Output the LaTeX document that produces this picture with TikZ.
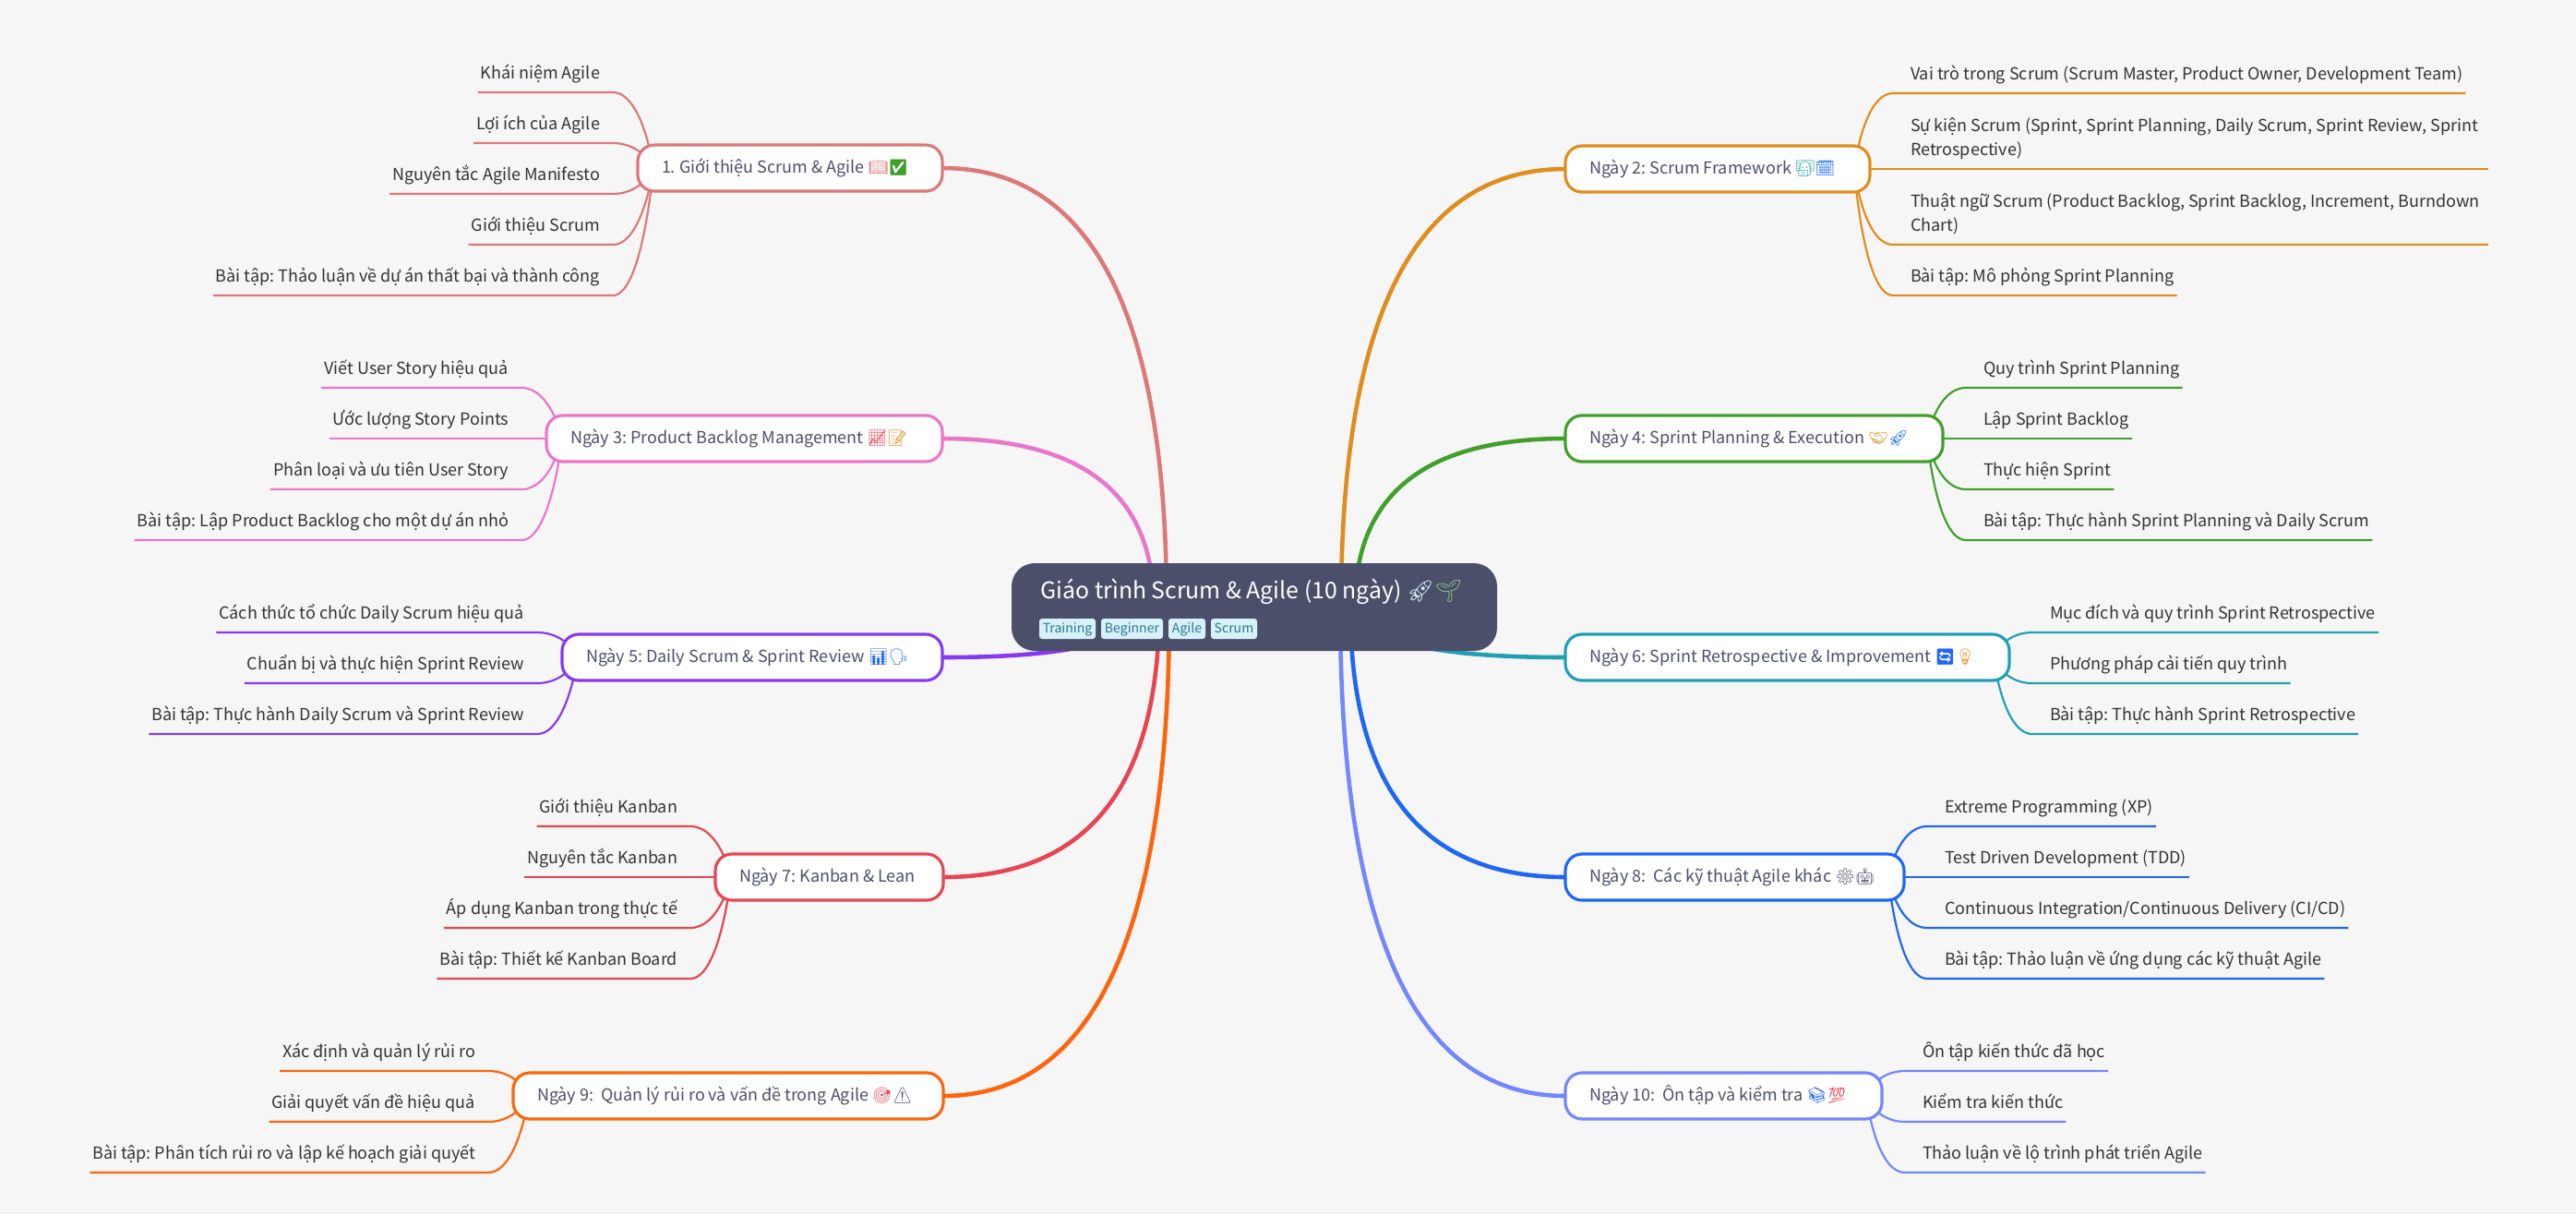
\documentclass[tikz,border=0pt]{standalone}
\usepackage{fontspec}
\usepackage{xcolor}
\usetikzlibrary{calc, backgrounds}
\setmainfont{Noto Sans CJK SC}
\newfontfamily\emojifont[Scale=0.95]{Noto Emoji}
\frenchspacing
\hyphenpenalty=10000

\definecolor{pagebg}{HTML}{F6F6F6}
\definecolor{rootbg}{HTML}{4C4F69}
\definecolor{tagbg}{HTML}{D6F1F7}
\definecolor{tagfg}{HTML}{2B7A94}
\definecolor{topicfg}{HTML}{4C4F69}
\definecolor{leaffg}{HTML}{333333}
\definecolor{cone}{HTML}{DD7878}
\definecolor{ctwo}{HTML}{DF8E1D}
\definecolor{cthree}{HTML}{EA76CB}
\definecolor{cfour}{HTML}{40A02B}
\definecolor{cfive}{HTML}{8839EF}
\definecolor{csix}{HTML}{209FB5}
\definecolor{cseven}{HTML}{E64553}
\definecolor{ceight}{HTML}{1E66F5}
\definecolor{cnine}{HTML}{FE640B}
\definecolor{cten}{HTML}{7287FD}

\newcommand{\emo}[2]{{\emojifont\color{#1}#2}}
\newcommand{\lstrut}{\rule[-0.08cm]{0pt}{0.18cm}}

\tikzset{
    topic/.style={draw=#1, fill=white, line width=0.9pt, rounded corners=0.18cm, inner xsep=0.26cm, inner ysep=0pt, outer sep=0pt, minimum height=0.5cm, text height=0.15cm, text depth=0.05cm, text=topicfg, font=\fontsize{5.12pt}{7pt}\selectfont},
    leafl/.style={anchor=south east, inner xsep=0.03cm, inner ysep=0.07cm, outer sep=0pt, text=leaffg, font=\fontsize{5.12pt}{7.4pt}\selectfont, execute at begin node=\lstrut, execute at end node={\hspace{0.11cm}}},
    leafr/.style={anchor=south west, inner xsep=0.03cm, inner ysep=0.07cm, outer sep=0pt, text=leaffg, font=\fontsize{5.12pt}{7.4pt}\selectfont, execute at begin node={\lstrut\hspace*{0.16cm}}},
    leafwide/.style={anchor=south west, inner xsep=0pt, inner ysep=0.07cm, outer sep=0pt, text width=6.45cm, align=left, text=leaffg, font=\fontsize{5.12pt}{7.4pt}\selectfont, execute at begin node={\leftskip=0.19cm\relax\spaceskip=0pt\relax\xspaceskip=0pt\relax\lstrut}, execute at end node=\lstrut},
    tagbox/.style={fill=tagbg, rounded corners=0.03cm, inner sep=0pt, minimum height=0.22cm, text height=0.12cm, text depth=0.04cm, text=tagfg, font=\fontsize{4pt}{5pt}\selectfont},
    mainline/.style={line width=1.3pt, to path={.. controls ($(\tikztostart)!0.667!(\tikztostart |- \tikztotarget)$) and ($(\tikztotarget)!0.667!(\tikztostart |- \tikztotarget)$) .. (\tikztotarget)}},
    linkl/.style={draw=#1, line width=0.62pt, to path={($(\tikztostart.west)+(0.17,0)$) .. controls ($(\tikztostart.west)+(0.17,0)$) and ($(\tikztotarget.south east)+(0.32,0)$) .. (\tikztotarget.south east) -- (\tikztotarget.south west)}},
    linkr/.style={draw=#1, line width=0.62pt, to path={($(\tikztostart.east)+(-0.17,0)$) .. controls ($(\tikztostart.east)+(-0.17,0)$) and ($(\tikztotarget.south west)+(-0.32,0)$) .. (\tikztotarget.south west) -- (\tikztotarget.south east)}},
}

\begin{document}
\begin{tikzpicture}
    % root
    \node[fill=rootbg, rounded corners=0.25cm, minimum width=5.26cm, minimum height=0.95cm, inner sep=0pt] (root) at (13.59, -6.575) {};
    \node[anchor=base west, inner sep=0pt, text=white, font=\fontsize{7.06pt}{9pt}\selectfont] (title) at (11.27, -6.48) {Giáo trình Scrum \& Agile (10 ngày) \emo{tagbg}{🚀}\emo{cfour!60!white}{🌱}};
    \node[tagbox, minimum width=0.61cm] (tag1) at (11.565, -6.81) {Training};
    \node[tagbox, minimum width=0.67cm] (tag2) at (12.265, -6.81) {Beginner};
    \node[tagbox, minimum width=0.40cm] (tag3) at (12.86, -6.81) {Agile};
    \node[tagbox, minimum width=0.50cm] (tag4) at (13.37, -6.81) {Scrum};

    % topics
    \node[topic=cone] (t1) at (8.56, -1.82) {\makebox[2.78cm][l]{1. Giới thiệu Scrum \& Agile \emo{cone}{📖}\emo{cfour}{✅}}};
    \node[topic=ctwo] (t2) at (18.61, -1.83) {\makebox[2.78cm][l]{Ngày 2: Scrum Framework \emo{csix}{👩‍💻}\emo{ceight}{🗓}}};
    \node[topic=cthree] (t3) at (8.065, -4.75) {\makebox[3.77cm][l]{Ngày 3: Product Backlog Management \emo{cseven}{📈}\emo{ctwo}{📝}}};
    \node[topic=cfour] (t4) at (19.005, -4.75) {\makebox[3.57cm][l]{Ngày 4: Sprint Planning \& Execution \emo{ctwo}{🤝}\emo{ceight}{🚀}}};
    \node[topic=cfive] (t5) at (8.15, -7.12) {\makebox[3.60cm][l]{Ngày 5: Daily Scrum \& Sprint Review \emo{ceight}{📊}\emo{ceight}{🗣}}};
    \node[topic=csix] (t6) at (19.365, -7.12) {\makebox[4.29cm][l]{Ngày 6: Sprint Retrospective \& Improvement \emo{ceight}{🔄}\emo{ctwo}{💡}}};
    \node[topic=cseven] (t7) at (8.985, -9.50) {\makebox[1.95cm][l]{Ngày 7: Kanban \& Lean}};
    \node[topic=ceight] (t8) at (18.795, -9.50) {\makebox[3.15cm][l]{Ngày 8:\ \ Các kỹ thuật Agile khác \emo{topicfg}{⚙}\emo{topicfg}{🤖}}};
    \node[topic=cnine] (t9) at (7.89, -11.87) {\makebox[4.14cm][l]{Ngày 9:\ \ Quản lý rủi ro và vấn đề trong Agile \emo{cseven}{🎯}\emo{topicfg}{⚠}}};
    \node[topic=cten] (t10) at (18.675, -11.87) {\makebox[2.91cm][l]{Ngày 10:\ \ Ôn tập và kiểm tra \emo{ceight}{📚}\emo{cseven}{💯}}};

    % leaves, left side
    \node[leafl] (a1) at (6.64, -1.00) {Khái niệm Agile};
    \node[leafl] (a2) at (6.64, -1.55) {Lợi ích của Agile};
    \node[leafl] (a3) at (6.64, -2.10) {Nguyên tắc Agile Manifesto};
    \node[leafl] (a4) at (6.64, -2.65) {Giới thiệu Scrum};
    \node[leafl] (a5) at (6.64, -3.20) {Bài tập: Thảo luận về dự án thất bại và thành công};
    \node[leafl] (c1) at (5.65, -4.20) {Viết User Story hiệu quả};
    \node[leafl] (c2) at (5.65, -4.75) {Ước lượng Story Points};
    \node[leafl] (c3) at (5.65, -5.30) {Phân loại và ưu tiên User Story};
    \node[leafl] (c4) at (5.65, -5.85) {Bài tập: Lập Product Backlog cho một dự án nhỏ};
    \node[leafl] (e1) at (5.82, -6.85) {Cách thức tổ chức Daily Scrum hiệu quả};
    \node[leafl] (e2) at (5.82, -7.40) {Chuẩn bị và thực hiện Sprint Review};
    \node[leafl] (e3) at (5.82, -7.95) {Bài tập: Thực hành Daily Scrum và Sprint Review};
    \node[leafl] (g1) at (7.48, -8.95) {Giới thiệu Kanban};
    \node[leafl] (g2) at (7.48, -9.50) {Nguyên tắc Kanban};
    \node[leafl] (g3) at (7.48, -10.05) {Áp dụng Kanban trong thực tế};
    \node[leafl] (g4) at (7.48, -10.60) {Bài tập: Thiết kế Kanban Board};
    \node[leafl] (i1) at (5.29, -11.60) {Xác định và quản lý rủi ro};
    \node[leafl] (i2) at (5.29, -12.15) {Giải quyết vấn đề hiệu quả};
    \node[leafl] (i3) at (5.29, -12.70) {Bài tập: Phân tích rủi ro và lập kế hoạch giải quyết};

    % leaves, right side
    \node[leafr] (b1) at (20.51, -1.01) {Vai trò trong Scrum (Scrum Master, Product Owner, Development Team)};
    \node[leafwide] (b2) at (20.51, -1.83) {\mbox{Sự kiện Scrum (Sprint, Sprint Planning, Daily Scrum, Sprint Review, Sprint}\\Retrospective)};
    \node[leafwide] (b3) at (20.51, -2.65) {\mbox{Thuật ngữ Scrum (Product Backlog, Sprint Backlog, Increment, Burndown}\\Chart)};
    \node[leafr] (b4) at (20.51, -3.20) {Bài tập: Mô phỏng Sprint Planning};
    \node[leafr] (d1) at (21.30, -4.20) {Quy trình Sprint Planning};
    \node[leafr] (d2) at (21.30, -4.75) {Lập Sprint Backlog};
    \node[leafr] (d3) at (21.30, -5.30) {Thực hiện Sprint};
    \node[leafr] (d4) at (21.30, -5.85) {Bài tập: Thực hành Sprint Planning và Daily Scrum};
    \node[leafr] (f1) at (22.02, -6.85) {Mục đích và quy trình Sprint Retrospective};
    \node[leafr] (f2) at (22.02, -7.40) {Phương pháp cải tiến quy trình};
    \node[leafr] (f3) at (22.02, -7.95) {Bài tập: Thực hành Sprint Retrospective};
    \node[leafr] (h1) at (20.88, -8.95) {Extreme Programming (XP)};
    \node[leafr] (h2) at (20.88, -9.50) {Test Driven Development (TDD)};
    \node[leafr] (h3) at (20.88, -10.05) {Continuous Integration/Continuous Delivery (CI/CD)};
    \node[leafr] (h4) at (20.88, -10.60) {Bài tập: Thảo luận về ứng dụng các kỹ thuật Agile};
    \node[leafr] (j1) at (20.64, -11.60) {Ôn tập kiến thức đã học};
    \node[leafr] (j2) at (20.64, -12.15) {Kiểm tra kiến thức};
    \node[leafr] (j3) at (20.64, -12.70) {Thảo luận về lộ trình phát triển Agile};

    % branch starts under the root
    \coordinate (r1) at (12.64, -6.57);
    \coordinate (r2) at (14.53, -6.57);
    \coordinate (r3) at (12.50, -6.57);
    \coordinate (r4) at (14.68, -6.57);
    \coordinate (r5) at (12.35, -6.57);
    \coordinate (r6) at (14.75, -6.57);
    \coordinate (r7) at (12.56, -6.57);
    \coordinate (r8) at (14.63, -6.57);
    \coordinate (r9) at (12.67, -6.57);
    \coordinate (r10) at (14.52, -6.57);

    \begin{scope}[on background layer]
        \fill[pagebg] (0, 0) rectangle (27.91, -13.15);

        \draw[mainline, cone] (r1) to (t1.east);
        \draw[mainline, ctwo] (r2) to (t2.west);
        \draw[mainline, cthree] (r3) to (t3.east);
        \draw[mainline, cfour] (r4) to (t4.west);
        \draw[mainline, cfive] (r5) to (t5.east);
        \draw[mainline, csix] (r6) to (t6.west);
        \draw[mainline, cseven] (r7) to (t7.east);
        \draw[mainline, ceight] (r8) to (t8.west);
        \draw[mainline, cnine] (r9) to (t9.east);
        \draw[mainline, cten] (r10) to (t10.west);

        \draw[linkl=cone] (t1) to (a1);
        \draw[linkl=cone] (t1) to (a2);
        \draw[linkl=cone] (t1) to (a3);
        \draw[linkl=cone] (t1) to (a4);
        \draw[linkl=cone] (t1) to (a5);
        \draw[linkr=ctwo] (t2) to (b1);
        \draw[linkr=ctwo] (t2) to (b2);
        \draw[linkr=ctwo] (t2) to (b3);
        \draw[linkr=ctwo] (t2) to (b4);
        \draw[linkl=cthree] (t3) to (c1);
        \draw[linkl=cthree] (t3) to (c2);
        \draw[linkl=cthree] (t3) to (c3);
        \draw[linkl=cthree] (t3) to (c4);
        \draw[linkr=cfour] (t4) to (d1);
        \draw[linkr=cfour] (t4) to (d2);
        \draw[linkr=cfour] (t4) to (d3);
        \draw[linkr=cfour] (t4) to (d4);
        \draw[linkl=cfive] (t5) to (e1);
        \draw[linkl=cfive] (t5) to (e2);
        \draw[linkl=cfive] (t5) to (e3);
        \draw[linkr=csix] (t6) to (f1);
        \draw[linkr=csix] (t6) to (f2);
        \draw[linkr=csix] (t6) to (f3);
        \draw[linkl=cseven] (t7) to (g1);
        \draw[linkl=cseven] (t7) to (g2);
        \draw[linkl=cseven] (t7) to (g3);
        \draw[linkl=cseven] (t7) to (g4);
        \draw[linkr=ceight] (t8) to (h1);
        \draw[linkr=ceight] (t8) to (h2);
        \draw[linkr=ceight] (t8) to (h3);
        \draw[linkr=ceight] (t8) to (h4);
        \draw[linkl=cnine] (t9) to (i1);
        \draw[linkl=cnine] (t9) to (i2);
        \draw[linkl=cnine] (t9) to (i3);
        \draw[linkr=cten] (t10) to (j1);
        \draw[linkr=cten] (t10) to (j2);
        \draw[linkr=cten] (t10) to (j3);
    \end{scope}
    \useasboundingbox (0, 0) rectangle (27.91, -13.15);
\end{tikzpicture}
\end{document}
